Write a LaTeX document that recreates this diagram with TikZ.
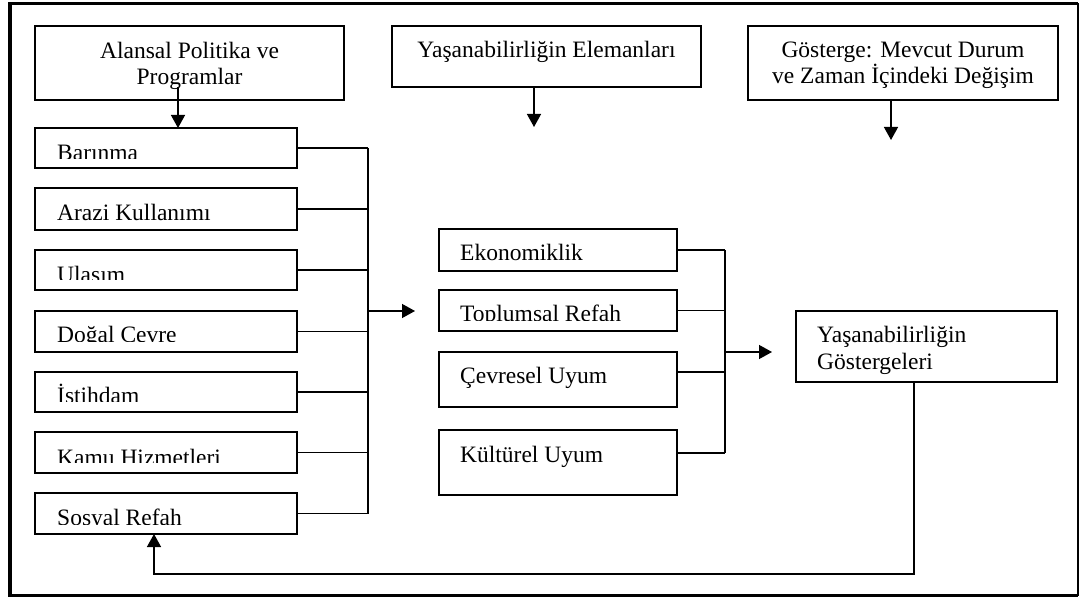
\documentclass[tikz,border=0pt]{standalone}
\usepackage{fontspec}
\setmainfont{Liberation Serif}
\usetikzlibrary{arrows.meta,calc}
\begin{document}
\begin{tikzpicture}[x=1pt,y=-1pt,
  box/.style={draw, line width=1.4pt, inner sep=0pt, outer sep=0pt, anchor=north west},
  lbl/.style={anchor=base west, inner sep=0pt, font=\fontsize{23.5}{26.5}\selectfont},
  ctr/.style={align=center, inner sep=0pt, font=\fontsize{23.5}{26.5}\selectfont},
  lft/.style={align=left, anchor=west, inner sep=0pt, font=\fontsize{23.5}{26.5}\selectfont},
  conn/.style={line width=1.4pt},
  arr/.style={conn, -{Triangle[length=13pt,width=14pt]}}]
\useasboundingbox (0,0) rectangle (1082,601);
% outer frame
\draw[line width=3.5pt] (1078,3.5) -- (10,3.5) -- (10,595.5) -- (1078,595.5);
\draw[line width=1.6pt] (1078,3.5) -- (1078,595.5);

% top boxes
\node[box, minimum width=309pt, minimum height=74pt] (h1) at (35,26) {};
\node[ctr] (h1t) at (189.5,66) {Alansal Politika ve\\Programlar};
\node[box, minimum width=309pt, minimum height=61pt] (h2) at (392,26) {};
\node[ctr, anchor=base] (h2t) at (546.5,57.5) {Yaşanabilirliğin Elemanları};
\node[box, minimum width=310pt, minimum height=74pt] (h3) at (748,26) {};
\node[ctr] (h3t) at (903,65.5) {Gösterge: Mevcut Durum\\ve Zaman İçindeki Değişim};

% left boxes
\node[box, minimum width=262pt, minimum height=40pt] (b1) at (35,128) {};
\node[box, minimum width=262pt, minimum height=42pt] (b2) at (35,188) {};
\node[box, minimum width=262pt, minimum height=40pt] (b3) at (35,250) {};
\node[box, minimum width=262pt, minimum height=41pt] (b4) at (35,311) {};
\node[box, minimum width=262pt, minimum height=40pt] (b5) at (35,372) {};
\node[box, minimum width=262pt, minimum height=41pt] (b6) at (35,432) {};
\node[box, minimum width=262pt, minimum height=41pt] (b7) at (35,493) {};
\begin{scope}
\clip (b1.north west) rectangle ([yshift=9pt]b1.south east);
\node[lbl] (b1t) at (57,160.5) {Barınma};
\end{scope}
\node[lbl] (b2t) at (57,220.5) {Arazi Kullanımı};
\begin{scope}
\clip (b3.north west) rectangle ([yshift=10pt]b3.south east);
\node[lbl] (b3t) at (57,282.5) {Ulaşım};
\end{scope}
\begin{scope}
\clip (b4.north west) rectangle ([yshift=10pt]b4.south east);
\node[lbl] (b4t) at (57,343) {Doğal Çevre};
\end{scope}
\begin{scope}
\clip (b5.north west) rectangle ([yshift=10pt]b5.south east);
\node[lbl] (b5t) at (57,404) {İstihdam};
\end{scope}
\begin{scope}
\clip (b6.north west) rectangle ([yshift=10pt]b6.south east);
\node[lbl] (b6t) at (57,465.5) {Kamu Hizmetleri};
\end{scope}
\begin{scope}
\clip (b7.north west) rectangle ([yshift=10pt]b7.south east);
\node[lbl] (b7t) at (57,525) {Sosyal Refah};
\end{scope}

% center boxes
\node[box, minimum width=238pt, minimum height=42pt] (c1) at (439,229) {};
\node[box, minimum width=238pt, minimum height=41pt] (c2) at (439,290) {};
\node[box, minimum width=238pt, minimum height=55pt] (c3) at (439,352) {};
\node[box, minimum width=238pt, minimum height=65pt] (c4) at (439,430) {};
\node[lbl] (c1t) at (460,260.5) {Ekonomiklik};
\begin{scope}
\clip (c2.north west) rectangle ([yshift=10pt]c2.south east);
\node[lbl] (c2t) at (460,321.5) {Toplumsal Refah};
\end{scope}
\node[lbl] (c3t) at (460,383.5) {Çevresel Uyum};
\node[lbl] (c4t) at (460,462.5) {Kültürel Uyum};

% right box
\node[box, minimum width=261pt, minimum height=71pt] (r1) at (796,311) {};
\node[lft] (r1t) at (817,350.5) {Yaşanabilirliğin\\Göstergeleri};

% free ends
\coordinate (busL) at (368,311);
\coordinate (eL) at (415,311);
\coordinate (busC) at (725,352);
\coordinate (eC) at (772,352);
\coordinate (e2) at (534,127);
\coordinate (e3) at (891,140);
\coordinate (fb) at (154,574);

% top arrows
\draw[arr] ([xshift=-11.5pt,yshift=13pt]h1.south) -- ([xshift=-11.5pt]h1.south |- b1.north);
\draw[arr] (h2.south -| e2) -- (e2);
\draw[arr] (h3.south -| e3) -- (e3);

% left bus
\foreach \b in {b1,b2,b3,b4,b5,b6,b7}{
  \draw[conn] (\b.east) -- (\b.east -| busL);
}
\draw[conn] (b1.east -| busL) -- (b7.east -| busL);
\draw[arr] (busL) -- (eL);

% center bus
\draw[conn] (c1.east) -- (c1.east -| busC);
\draw[conn] (c2.east) -- (c2.east -| busC);
\draw[conn] ([yshift=7.5pt]c3.east) -- ([yshift=7.5pt]c3.east -| busC);
\draw[conn] ([yshift=9.5pt]c4.east) -- ([yshift=9.5pt]c4.east -| busC);
\draw[conn] (c1.east -| busC) -- ([yshift=9.5pt]c4.east -| busC);
\draw[arr] (busC) -- (eC);

% feedback
\draw[arr] ([xshift=-12.5pt]r1.south) -- ([xshift=-12.5pt]r1.south |- fb) -- (fb) -- (fb |- b7.south);
\end{tikzpicture}
\end{document}
